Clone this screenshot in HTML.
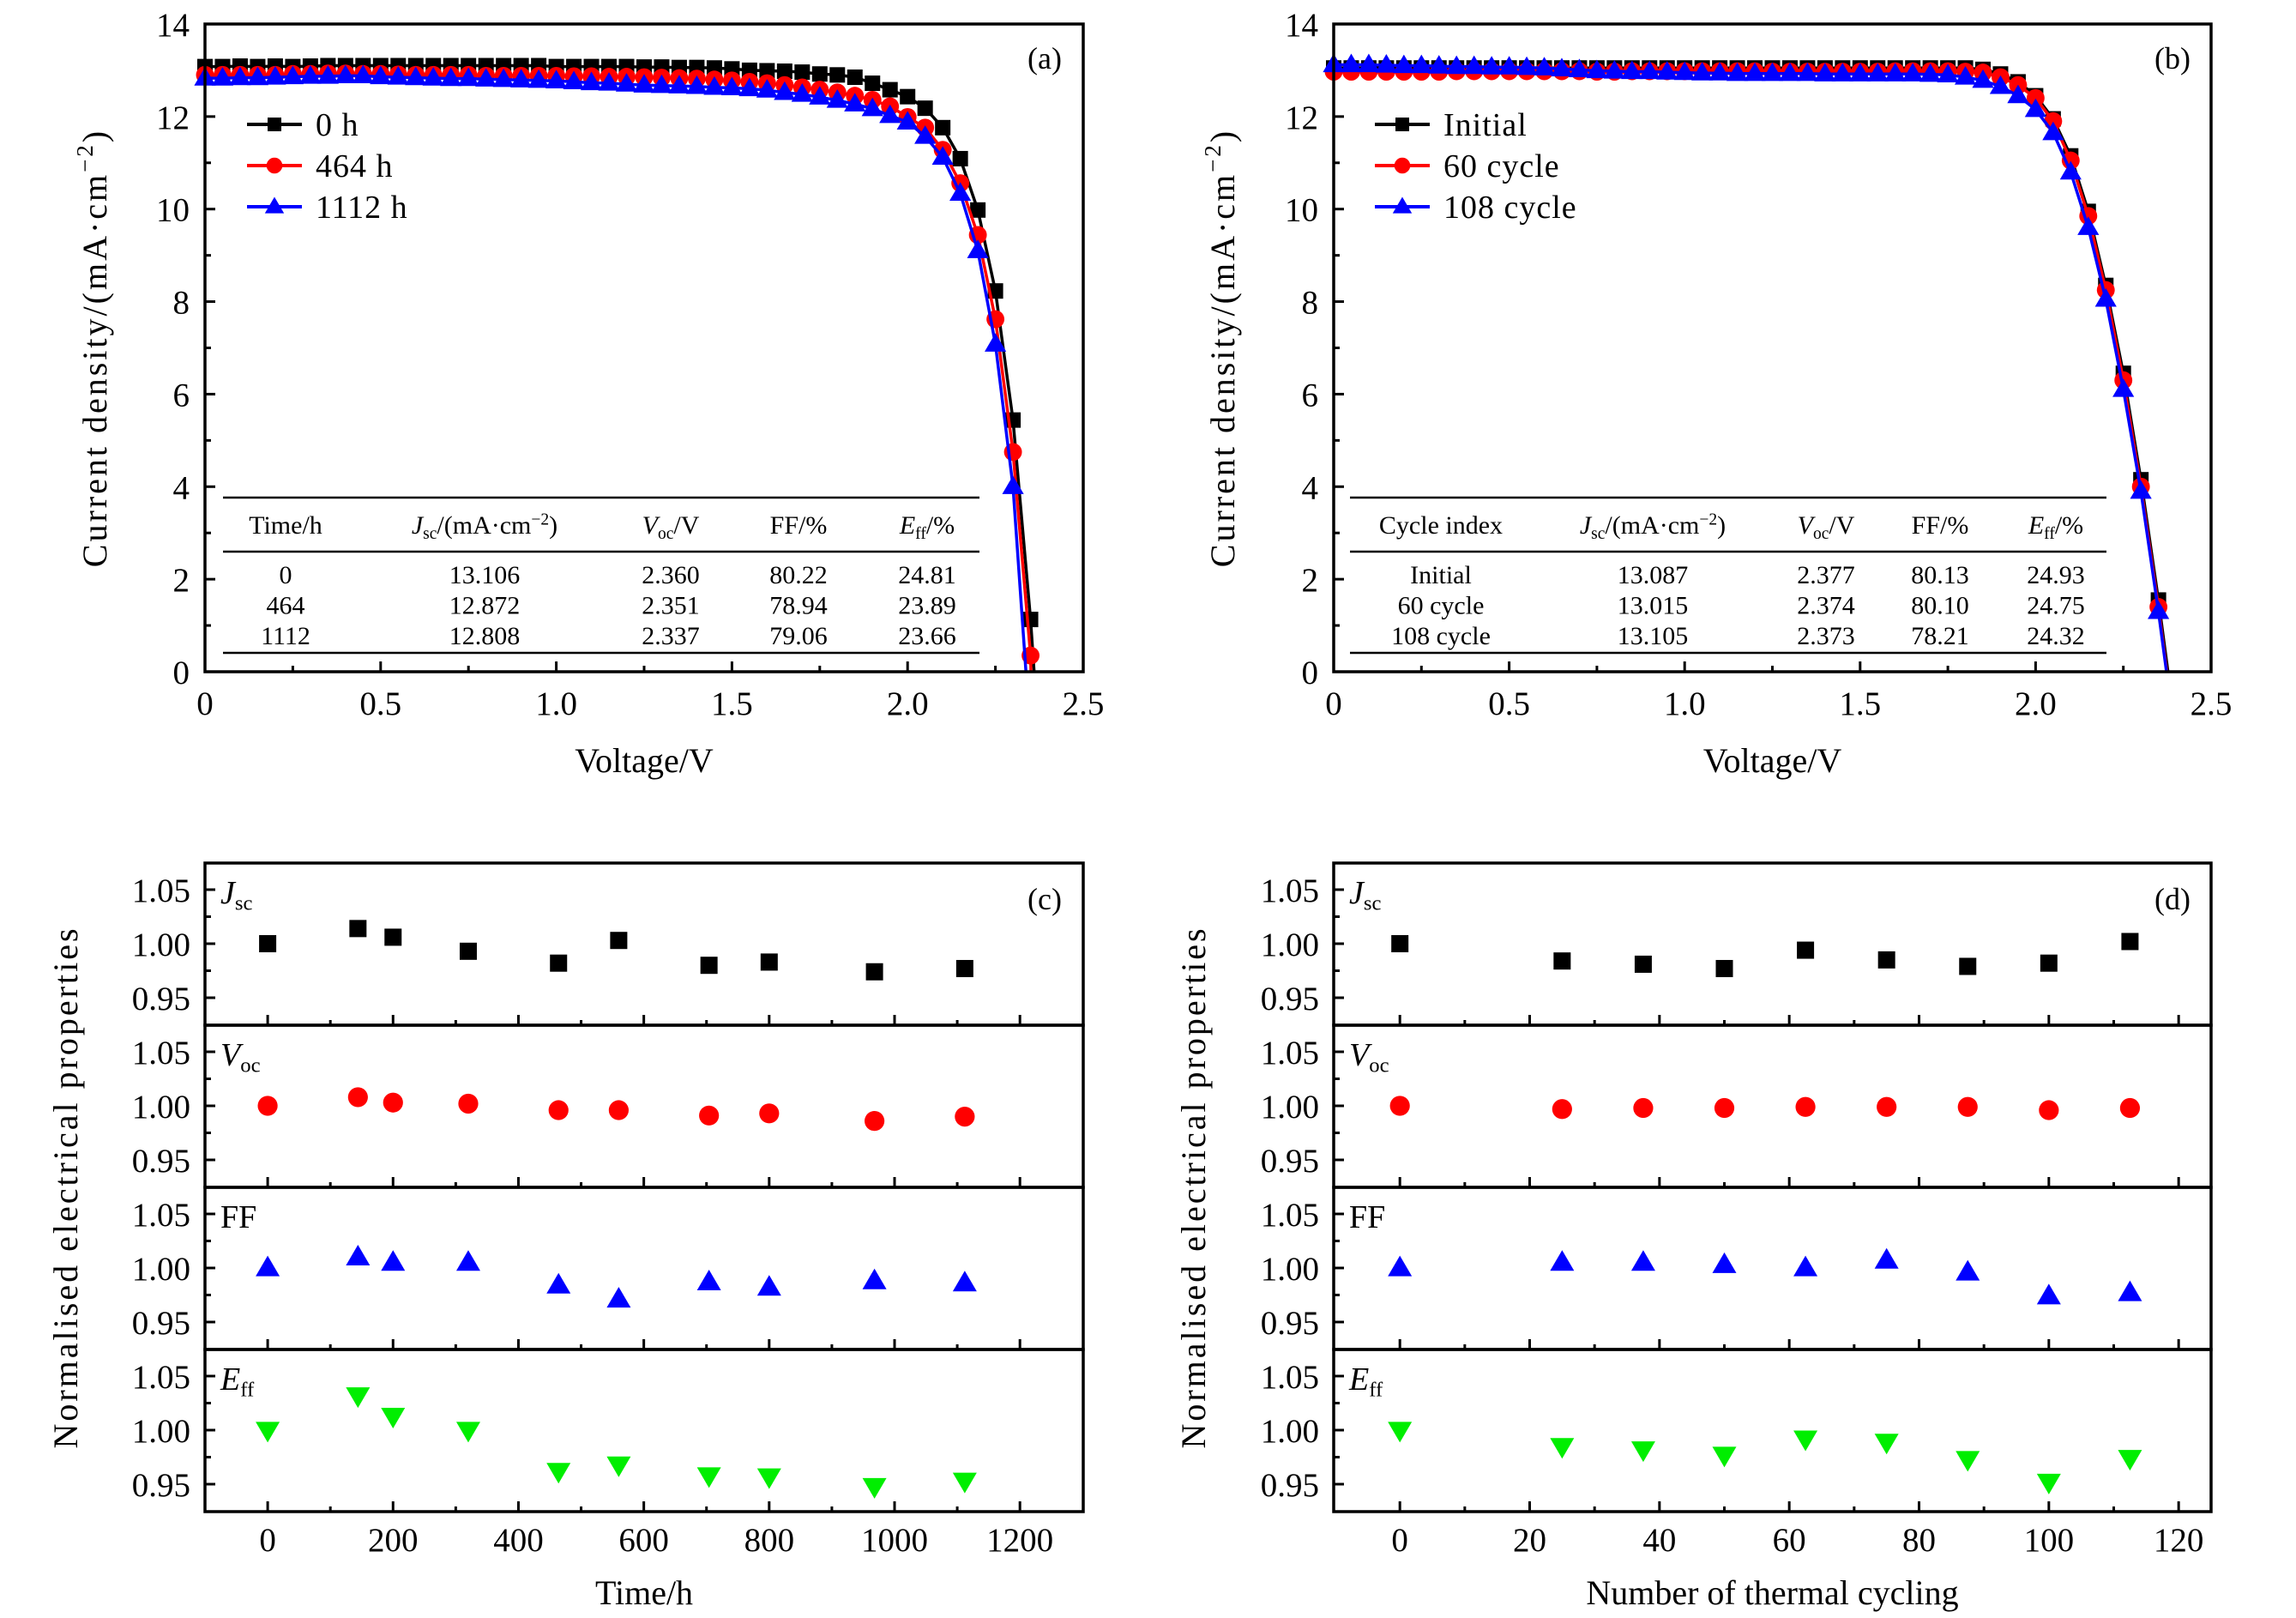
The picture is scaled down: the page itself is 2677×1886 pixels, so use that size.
<!DOCTYPE html>
<html><head><meta charset="utf-8">
<style>
html,body{margin:0;padding:0;background:#fff;}
svg{display:block;font-family:"Liberation Serif",serif;}
</style></head>
<body>
<svg id="fig" width="2677" height="1886" viewBox="0 0 2677 1886" xmlns="http://www.w3.org/2000/svg"></svg>
<script>
// ---------- data ----------
const ivVoltage = [0,0.05,0.1,0.15,0.2,0.25,0.3,0.35,0.4,0.45,0.5,0.55,0.6,0.65,0.7,0.75,0.8,0.85,0.9,0.95,1.0,1.05,1.1,1.15,1.2,1.25,1.3,1.35,1.4,1.45,1.5,1.55,1.6,1.65,1.7,1.75,1.8,1.85,1.9,1.95,2.0,2.05,2.1,2.15,2.2,2.25,2.3,2.35];
const aLabels = ["0 h","464 h","1112 h"];
const a0h = [13.08,13.08,13.09,13.08,13.09,13.08,13.09,13.1,13.1,13.1,13.1,13.1,13.1,13.1,13.1,13.1,13.1,13.1,13.1,13.1,13.08,13.08,13.08,13.08,13.08,13.07,13.07,13.06,13.06,13.05,13.03,13.0,12.99,12.98,12.96,12.92,12.9,12.85,12.72,12.58,12.43,12.18,11.76,11.09,9.98,8.23,5.44,1.13];
const a464h = [12.9,12.9,12.9,12.9,12.9,12.92,12.92,12.93,12.93,12.92,12.92,12.91,12.9,12.9,12.9,12.9,12.88,12.88,12.88,12.88,12.88,12.87,12.87,12.86,12.86,12.85,12.84,12.83,12.82,12.8,12.78,12.75,12.72,12.68,12.63,12.58,12.52,12.45,12.36,12.22,11.99,11.76,11.28,10.56,9.44,7.62,4.75,0.35];
const a1112h = [12.83,12.83,12.84,12.84,12.85,12.86,12.87,12.87,12.88,12.88,12.86,12.85,12.84,12.83,12.82,12.82,12.81,12.8,12.79,12.78,12.77,12.75,12.73,12.72,12.7,12.68,12.67,12.66,12.65,12.63,12.62,12.6,12.57,12.52,12.48,12.42,12.35,12.27,12.17,12.02,11.88,11.57,11.12,10.34,9.1,7.08,4.0];
const aVoc = [2.360,2.351,2.337];
const bLabels = ["Initial","60 cycle","108 cycle"];
const bInit = [13.05,13.05,13.05,13.05,13.05,13.05,13.05,13.05,13.05,13.05,13.05,13.05,13.05,13.05,13.05,13.05,13.05,13.05,13.05,13.05,13.05,13.05,13.05,13.05,13.05,13.05,13.05,13.05,13.05,13.05,13.05,13.05,13.05,13.05,13.05,13.05,13.05,13.02,12.92,12.75,12.45,11.95,11.15,9.95,8.35,6.45,4.15,1.55];
const b60 = [12.97,12.97,12.97,12.97,12.97,12.97,12.97,12.98,12.98,12.98,12.98,12.98,12.98,12.98,12.98,12.97,12.97,12.98,12.98,12.98,12.98,12.98,12.98,12.98,12.98,12.97,12.97,12.97,12.97,12.97,12.97,12.97,12.98,12.98,12.98,12.98,12.97,12.95,12.85,12.68,12.4,11.9,11.05,9.85,8.25,6.3,4.0,1.4];
const b108 = [13.12,13.12,13.12,13.11,13.1,13.1,13.09,13.08,13.08,13.07,13.07,13.06,13.05,13.03,13.01,12.99,12.98,12.97,12.97,12.96,12.95,12.94,12.94,12.93,12.93,12.93,12.93,12.93,12.92,12.92,12.92,12.92,12.92,12.92,12.91,12.9,12.85,12.78,12.65,12.45,12.15,11.65,10.8,9.6,8.05,6.1,3.9,1.3];
const bVoc = [2.377,2.374,2.373];
const yTicksIV = [0,2,4,6,8,10,12,14];
const xTicksIV = [0,0.5,1.0,1.5,2.0,2.5];
const xTickLabelsIV = ["0","0.5","1.0","1.5","2.0","2.5"];

const tableAHeader = ["Time/h","J|sc|/(mA·cm^−2)","V|oc|/V","FF/%","E|ff|/%"];
const tableARows = [["0","13.106","2.360","80.22","24.81"],["464","12.872","2.351","78.94","23.89"],["1112","12.808","2.337","79.06","23.66"]];
const tableBHeader = ["Cycle index","J|sc|/(mA·cm^−2)","V|oc|/V","FF/%","E|ff|/%"];
const tableBRows = [["Initial","13.087","2.377","80.13","24.93"],["60 cycle","13.015","2.374","80.10","24.75"],["108 cycle","13.105","2.373","78.21","24.32"]];

const cTime = [0,144,200,320,464,560,704,800,968,1112];
const cJsc = [1.0,1.014,1.006,0.993,0.982,1.003,0.980,0.983,0.974,0.977];
const cVoc = [1.0,1.008,1.003,1.002,0.996,0.996,0.991,0.993,0.986,0.990];
const cFF = [1.0,1.010,1.005,1.005,0.984,0.971,0.987,0.982,0.988,0.986];
const cEff = [1.0,1.032,1.013,1.0,0.962,0.968,0.958,0.957,0.948,0.953];
const xTicksC = [0,200,400,600,800,1000,1200];

const dCycle = [0,25,37.5,50,62.5,75,87.5,100,112.5];
const dJsc = [1.0,0.984,0.981,0.977,0.994,0.985,0.979,0.982,1.002];
const dVoc = [1.0,0.997,0.998,0.998,0.999,0.999,0.999,0.996,0.998];
const dFF = [1.0,1.005,1.005,1.003,1.0,1.007,0.996,0.974,0.977];
const dEff = [1.0,0.985,0.982,0.977,0.992,0.989,0.973,0.952,0.974];
const xTicksD = [0,20,40,60,80,100,120];
const yTicksN = [0.95,1.00,1.05];
const yTickLabelsN = ["0.95","1.00","1.05"];

// ---------- helpers ----------
const NS="http://www.w3.org/2000/svg";
const svg=document.getElementById('fig');
function mk(tag, attrs, parent){
  const e=document.createElementNS(NS,tag);
  for(const k in attrs) e.setAttribute(k,attrs[k]);
  (parent||svg).appendChild(e);
  return e;
}
function richText(parent, str, x, y, size, anchor){
  const t=mk('text',{x:x,y:y,'font-size':size,'text-anchor':anchor||'middle'},parent);
  const parts=str.split('|');
  if(parts.length===3){
    const a=mk('tspan',{'font-style':'italic'},t); a.textContent=parts[0];
    const b=mk('tspan',{'font-size':size*0.65,dy:size*0.2},t); b.textContent=parts[1];
    const sup=parts[2].split('^');
    const c=mk('tspan',{dy:-size*0.2},t); c.textContent=sup[0];
    if(sup.length>1){
      const m=sup[1].match(/^([^)]*)(.*)$/);
      const d=mk('tspan',{'font-size':size*0.65,dy:-size*0.35},t); d.textContent=m[1];
      const e=mk('tspan',{dy:size*0.35},t); e.textContent=m[2];
    }
  } else {
    t.textContent=str;
  }
  return t;
}
function marker(g, type, cx, cy, s, color){
  let e;
  if(type==='sq') e=mk('rect',{x:cx-s/2,y:cy-s/2,width:s,height:s,fill:color},g);
  else if(type==='ci') e=mk('circle',{cx:cx,cy:cy,r:s*0.58,fill:color},g);
  else if(type==='tu'){const w=s*1.4,h=s*1.2;e=mk('polygon',{points:`${cx},${cy-h*0.6} ${cx-w/2},${cy+h*0.4} ${cx+w/2},${cy+h*0.4}`,fill:color},g);}
  else {const w=s*1.4,h=s*1.2;e=mk('polygon',{points:`${cx},${cy+h*0.6} ${cx-w/2},${cy-h*0.4} ${cx+w/2},${cy-h*0.4}`,fill:color},g);}
  return e;
}
const COLORS=['#000000','#ff0000','#0000ff','#00ee00'];
const TYPES=['sq','ci','tu','td'];

// ---------- IV panel ----------
function ivPanel(id, L, R, T, B, series, vocs, labels, legX, header, rows, tblL, tblR, cols, tag, ytX){
  const g=mk('g',{});
  const xs=v=>L+(v/2.5)*(R-L);
  const ys=v=>B-(v/14)*(B-T);
  const tg=mk('g',{},g);
  for(let v=0;v<=14;v+=1){const y=ys(v);mk('line',{x1:L,y1:y,x2:L+(v%2===0?12:7),y2:y,stroke:'#000','stroke-width':3},tg);}
  for(let i=0;i<=10;i++){const v=i*0.25;const x=xs(v);mk('line',{x1:x,y1:B,x2:x,y2:B-(i%2===0?12:7),stroke:'#000','stroke-width':3},tg);}
  yTicksIV.forEach(v=>{const t=mk('text',{x:L-18,y:ys(v)+14,'font-size':39,'text-anchor':'end'},tg);t.textContent=v;});
  xTicksIV.forEach((v,i)=>{const t=mk('text',{x:xs(v),y:B+50,'font-size':39,'text-anchor':'middle'},tg);t.textContent=xTickLabelsIV[i];});
  const xt=mk('text',{x:(L+R)/2,y:B+117,'font-size':40,'text-anchor':'middle'},tg);xt.textContent='Voltage/V';
  
  const yt=mk('text',{x:0,y:0,'font-size':40,'text-anchor':'middle','letter-spacing':'3',transform:`translate(${ytX},${(T+B)/2}) rotate(-90)`},tg);
  const y1=mk('tspan',{},yt);y1.textContent='Current density/(mA·cm';
  const y2=mk('tspan',{'font-size':27,dy:-16},yt);y2.textContent='−2';
  const y3=mk('tspan',{dy:16},yt);y3.textContent=')';
  
  const tb=mk('g',{},g);
  [580,643,761].forEach(y=>mk('line',{x1:tblL,y1:y,x2:tblR,y2:y,stroke:'#000','stroke-width':2.5},tb));
  header.forEach((h,i)=>richText(tb,h,cols[i],622,30,'middle'));
  rows.forEach((r,j)=>r.forEach((c,i)=>{const t=mk('text',{x:cols[i],y:680+j*35.5,'font-size':30,'text-anchor':'middle'},tb);t.textContent=c;}));
  series.forEach((s,k)=>{
    const sg=mk('g',{},g);
    let d='';
    s.forEach((v,i)=>{d+=(i?'L':'M')+xs(ivVoltage[i]).toFixed(1)+','+ys(v).toFixed(1);});
    d+='L'+xs(vocs[k]).toFixed(1)+','+ys(0).toFixed(1);
    mk('path',{d:d,fill:'none',stroke:COLORS[k],'stroke-width':3.5},sg);
    s.forEach((v,i)=>marker(sg,TYPES[k],xs(ivVoltage[i]),ys(v),18,COLORS[k]));
  });
  mk('rect',{x:L,y:T,width:R-L,height:B-T,fill:'none',stroke:'#000','stroke-width':3.5,},g);
  const lg=mk('g',{},g);
  labels.forEach((lb,k)=>{
    const y=145+k*48;
    const e=mk('g',{},lg);
    mk('line',{x1:legX,y1:y,x2:legX+64,y2:y,stroke:COLORS[k],'stroke-width':4},e);
    marker(e,TYPES[k],legX+32,y,16,COLORS[k]);
    const t=mk('text',{x:legX+80,y:y+13,'font-size':38,'letter-spacing':'1'},e);t.textContent=lb;
  });
  const pt=mk('text',{x:R-45,y:80,'font-size':36,'text-anchor':'middle',},g);pt.textContent=tag;
}
ivPanel('panel-a',239,1263,28,783,[a0h,a464h,a1112h],aVoc,aLabels,288,tableAHeader,tableARows,260,1142,[333,565,782,931,1081],'(a)',124);
ivPanel('panel-b',1555,2578,28,783,[bInit,b60,b108],bVoc,bLabels,1603,tableBHeader,tableBRows,1574,2456,[1680,1927,2129,2262,2397],'(b)',1439);

// ---------- normalised panels ----------
function normPanel(id, L, R, xmin, xmax, xsArr, sets, names, xTicks, minorStep, xtitle, tag, ytX){
  const g=mk('g',{});
  const tops=[1006,1195,1384,1573], bot=1762;
  const xs=v=>L+(v-xmin)/(xmax-xmin)*(R-L);
  sets.forEach((vals,k)=>{
    const T=tops[k], B=(k<3?tops[k+1]:bot);
    const ys=v=>B-(v-0.9246)/(0.15)*(B-T);
    const sg=mk('g',{},g);
    [0.95,0.975,1.0,1.025,1.05,1.075].forEach((v,i)=>{const y=ys(v);if(y>T+3)mk('line',{x1:L,y1:y,x2:L+(i%2===0?12:7),y2:y,stroke:'#000','stroke-width':3},sg);});
    yTicksN.forEach((v,i)=>{const t=mk('text',{x:L-17,y:ys(v)+14,'font-size':39,'text-anchor':'end'},sg);t.textContent=yTickLabelsN[i];});
    for(let v=xTicks[0];v<=xTicks[xTicks.length-1]+1e-9;v+=minorStep){
      const major=xTicks.some(t=>Math.abs(t-v)<1e-6);
      const x=xs(v);mk('line',{x1:x,y1:B,x2:x,y2:B-(major?12:6),stroke:'#000','stroke-width':3},sg);
    }
    mk('rect',{x:L,y:T,width:R-L,height:B-T,fill:'none',stroke:'#000','stroke-width':3.5},sg);
    vals.forEach((v,i)=>marker(sg,TYPES[k],xs(xsArr[i]),ys(v),20,COLORS[k]));
    const lab=richText(sg,names[k],L+18,T+47,38,'start');
    
  });
  xTicks.forEach(v=>{const t=mk('text',{x:xs(v),y:1808,'font-size':39,'text-anchor':'middle'},g);t.textContent=v;});
  const xt=mk('text',{x:(L+R)/2,y:1870,'font-size':40,'text-anchor':'middle',},g);xt.textContent=xtitle;
  const yt=mk('text',{x:0,y:0,'font-size':40,'text-anchor':'middle','letter-spacing':'3',transform:`translate(${ytX},1384) rotate(-90)`,},g);
  yt.textContent='Normalised electrical properties';
  const pt=mk('text',{x:R-45,y:1060,'font-size':36,'text-anchor':'middle',},g);pt.textContent=tag;
}
normPanel('panel-c',239,1263,-100,1301,cTime,[cJsc,cVoc,cFF,cEff],['J|sc|','V|oc|','FF','E|ff|'],xTicksC,100,'Time/h','(c)',90);
normPanel('panel-d',1555,2578,-10.2,125,dCycle,[dJsc,dVoc,dFF,dEff],['J|sc|','V|oc|','FF','E|ff|'],xTicksD,10,'Number of thermal cycling','(d)',1405);
</script>
</body></html>
